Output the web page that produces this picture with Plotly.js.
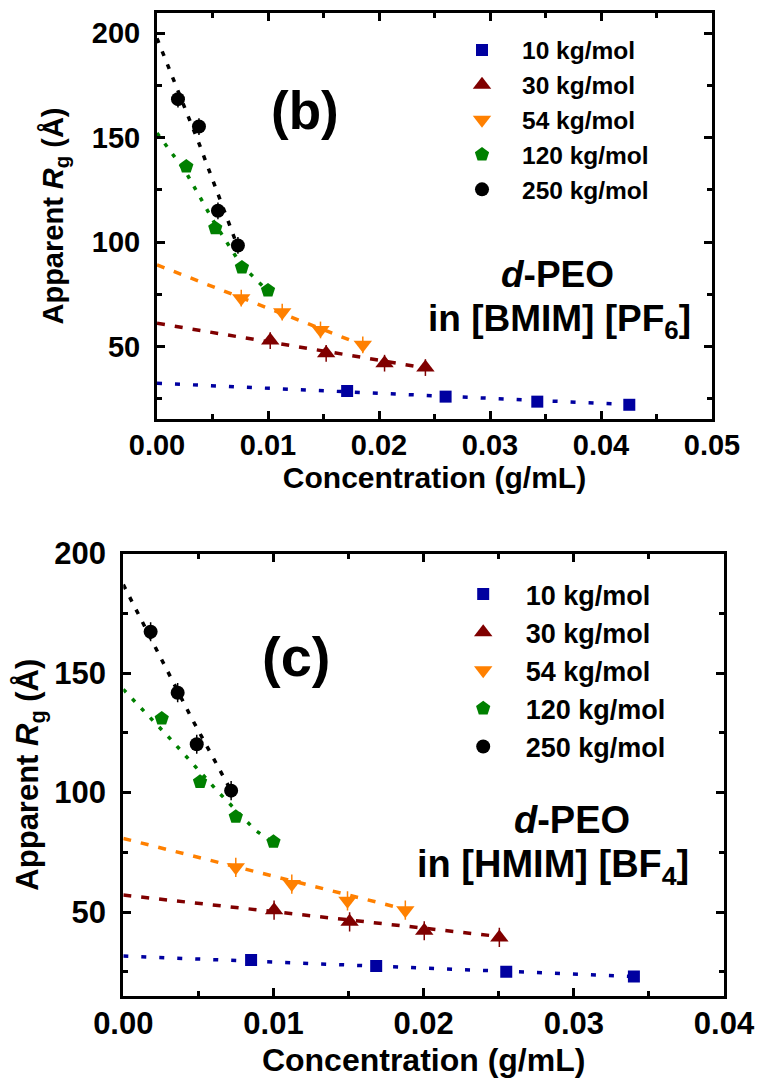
<!DOCTYPE html>
<html><head><meta charset="utf-8">
<script src="https://cdn.plot.ly/plotly-3.0.1.min.js"></script>
<style>html,body{margin:0;padding:0;background:#fff}</style>
</head><body>
<div id="chart" style="width:759px;height:1078px"></div>
<script>
// ---------- data ----------
const seriesNames = ['10 kg/mol', '30 kg/mol', '54 kg/mol', '120 kg/mol', '250 kg/mol'];
const seriesColors = ['#0000a0', '#800000', '#ff8000', '#008000', '#000000'];
const seriesSymbols = ['square', 'triangle-up', 'triangle-down', 'pentagon', 'circle'];

// panel (b): d-PEO in [BMIM][PF6]
const b10x = [0.01713, 0.0260, 0.03426, 0.04255];
const b10y = [28.8, 26.1, 23.7, 22.2];
const b30x = [0.0102, 0.01524, 0.0205, 0.02418];
const b30y = [52.9, 46.8, 42.1, 40.0];
const b54x = [0.00759, 0.01128, 0.01473, 0.01854];
const b54y = [73.2, 66.5, 58.0, 50.9];
const b120x = [0.00264, 0.00525, 0.00765, 0.0100];
const b120y = [136.2, 106.7, 87.9, 76.9];
const b250x = [0.00189, 0.00378, 0.00549, 0.00729];
const b250y = [168.4, 155.3, 115.0, 98.4];
// fitted (extrapolation) lines, panel (b)
const bFit10x = [0, 0.0425],  bFit10y = [32.5, 22.3];
const bFit30x = [0, 0.0242],  bFit30y = [61.2, 39.8];
const bFit54x = [0, 0.0192],  bFit54y = [89.1, 49.4];
const bFit120x = [0, 0.0026, 0.0052, 0.0076, 0.0100], bFit120y = [152.2, 133.5, 109.0, 89.0, 76.5];
const bFit250x = [0, 0.0038, 0.0074], bFit250y = [197.5, 147.0, 96.0];

// panel (c): d-PEO in [HMIM][BF4]
const c10x = [0.00851, 0.01684, 0.0255, 0.0340];
const c10y = [29.9, 27.4, 25.0, 23.0];
const c30x = [0.01004, 0.01507, 0.02004, 0.02504];
const c30y = [50.8, 45.9, 42.2, 39.4];
const c54x = [0.00749, 0.01122, 0.01493, 0.01878];
const c54y = [68.7, 61.7, 54.7, 50.8];
const c120x = [0.00256, 0.00511, 0.00749, 0.0100];
const c120y = [131.0, 104.5, 89.9, 79.4];
const c250x = [0.00182, 0.00362, 0.00489, 0.00718];
const c250y = [167.3, 141.8, 120.2, 100.8];
// fitted lines, panel (c)
const cFit10x = [0, 0.0342],  cFit10y = [31.6, 23.0];
const cFit30x = [0, 0.0250],  cFit30y = [57.1, 39.8];
const cFit54x = [0, 0.0190],  cFit54y = [80.8, 50.8];
const cFit120x = [0, 0.0032, 0.0063, 0.0088, 0.0100], cFit120y = [143.2, 122.0, 100.4, 84.2, 79.0];
const cFit250x = [0, 0.00456, 0.0072], cFit250y = [187.0, 131.0, 100.5];

// error-bar half widths (Å)
const errB = [0, 4, 4, 0, 4];
const errC = [0, 4, 4, 0, 4];

// ---------- style ----------
const FONT = 'Liberation Sans, Arial, Helvetica, sans-serif';
const dashes = ['5px,13px', '8px,10px', '8px,10px', '4px,9px', '5px,9px'];
const markerSizes = [12, 16, 16, 15, 14];

const panelB = {
  pts: [[b10x,b10y],[b30x,b30y],[b54x,b54y],[b120x,b120y],[b250x,b250y]],
  fits: [[bFit10x,bFit10y],[bFit30x,bFit30y],[bFit54x,bFit54y],[bFit120x,bFit120y],[bFit250x,bFit250y]],
  err: errB, xa: 'x', ya: 'y', legend: 'legend'
};
const panelC = {
  pts: [[c10x,c10y],[c30x,c30y],[c54x,c54y],[c120x,c120y],[c250x,c250y]],
  fits: [[cFit10x,cFit10y],[cFit30x,cFit30y],[cFit54x,cFit54y],[cFit120x,cFit120y],[cFit250x,cFit250y]],
  err: errC, xa: 'x2', ya: 'y2', legend: 'legend2'
};

const traces = [];
[panelB, panelC].forEach(p => {
  p.fits.forEach((f, i) => {
    traces.push({
      x: f[0], y: f[1], xaxis: p.xa, yaxis: p.ya, mode: 'lines', type: 'scatter',
      line: {color: seriesColors[i], width: 3.5, dash: dashes[i]},
      showlegend: false, hoverinfo: 'skip'
    });
  });
  p.pts.forEach((d, i) => {
    traces.push({
      x: d[0], y: d[1], xaxis: p.xa, yaxis: p.ya, mode: 'markers', type: 'scatter',
      name: seriesNames[i], legend: p.legend,
      marker: {symbol: seriesSymbols[i], color: seriesColors[i], size: markerSizes[i], line: {width: 0}},
      error_y: {type: 'constant', value: p.err[i], visible: p.err[i] > 0, color: seriesColors[i], thickness: 1.5, width: 0}
    });
  });
});

function xAxis(domain, range, anchor, tickSize, titleSize, standoff, lblStandoff) {
  return {
    domain: domain, range: range, anchor: anchor, tickformat: '.2f', dtick: 0.01, tick0: 0,
    showline: true, linewidth: 3, linecolor: '#000', mirror: 'ticks',
    ticks: 'inside', ticklen: 8, tickwidth: 3, tickcolor: '#000',
    minor: {ticks: 'inside', dtick: 0.005, ticklen: 5, tickwidth: 3, tickcolor: '#000'},
    showgrid: false, zeroline: false, ticklabelstandoff: lblStandoff,
    tickfont: {family: FONT, size: tickSize, color: '#000', weight: 'bold'},
    title: {text: 'Concentration (g/mL)', standoff: standoff,
            font: {family: FONT, size: titleSize, color: '#000', weight: 'bold'}}
  };
}
function yAxis(domain, range, anchor, tickSize, titleSize, standoff, lblStandoff) {
  return {
    domain: domain, range: range, anchor: anchor, dtick: 50, tick0: 0,
    showline: true, linewidth: 3, linecolor: '#000', mirror: 'ticks',
    ticks: 'inside', ticklen: 8, tickwidth: 3, tickcolor: '#000',
    minor: {ticks: 'inside', dtick: 25, ticklen: 5, tickwidth: 3, tickcolor: '#000'},
    showgrid: false, zeroline: false, ticklabelstandoff: lblStandoff,
    tickfont: {family: FONT, size: tickSize, color: '#000', weight: 'bold'},
    title: {text: 'Apparent <i>R</i><sub>g</sub> (Å)', standoff: standoff,
            font: {family: FONT, size: titleSize, color: '#000', weight: 'bold'}}
  };
}

const W = 759, H = 1078;
const px = v => v / W, py = v => 1 - v / H;

const layout = {
  width: W, height: H, autosize: false,
  margin: {l: 0, r: 0, t: 0, b: 0, pad: 0},
  paper_bgcolor: '#fff', plot_bgcolor: '#fff',
  font: {family: FONT, color: '#000', weight: 'bold'},
  xaxis: xAxis([px(157), px(712)], [0, 0.05], 'y', 29, 30, 8, -2),
  yaxis: yAxis([py(419), py(13)], [15.4, 209.6], 'x', 29, 29, 20, 8),
  xaxis2: xAxis([px(123.3), px(724)], [0, 0.04], 'y2', 31, 32, 26, -2),
  yaxis2: yAxis([py(995.7), py(553.6)], [15, 200], 'x2', 31, 31, 7, 8),
  legend: {x: px(442), xanchor: 'left', y: py(27.5), yanchor: 'top', itemwidth: 70,
           bgcolor: 'rgba(0,0,0,0)', borderwidth: 0, tracegroupgap: 0,
           font: {family: FONT, size: 24.5, color: '#000', weight: 'bold'}},
  legend2: {x: px(440.7), xanchor: 'left', y: py(570), yanchor: 'top', itemwidth: 75,
           bgcolor: 'rgba(0,0,0,0)', borderwidth: 0, tracegroupgap: 0,
           font: {family: FONT, size: 27, color: '#000', weight: 'bold'}},
  annotations: [
    {text: '(b)', x: px(305), y: py(111), xref: 'paper', yref: 'paper', showarrow: false,
     xanchor: 'center', yanchor: 'middle', font: {family: FONT, size: 53, color: '#000', weight: 'bold'}},
    {text: '<i>d</i>-PEO', x: px(557.5), y: py(275), xref: 'paper', yref: 'paper', showarrow: false,
     xanchor: 'center', yanchor: 'middle', font: {family: FONT, size: 37, color: '#000', weight: 'bold'}},
    {text: 'in [BMIM] [PF<sub>6</sub>]', x: px(559), y: py(321.5), xref: 'paper', yref: 'paper', showarrow: false,
     xanchor: 'center', yanchor: 'middle', font: {family: FONT, size: 37, color: '#000', weight: 'bold'}},
    {text: '(c)', x: px(296), y: py(656), xref: 'paper', yref: 'paper', showarrow: false,
     xanchor: 'center', yanchor: 'middle', font: {family: FONT, size: 56, color: '#000', weight: 'bold'}},
    {text: '<i>d</i>-PEO', x: px(572), y: py(820), xref: 'paper', yref: 'paper', showarrow: false,
     xanchor: 'center', yanchor: 'middle', font: {family: FONT, size: 38, color: '#000', weight: 'bold'}},
    {text: 'in [HMIM] [BF<sub>4</sub>]', x: px(553), y: py(867), xref: 'paper', yref: 'paper', showarrow: false,
     xanchor: 'center', yanchor: 'middle', font: {family: FONT, size: 38, color: '#000', weight: 'bold'}}
  ]
};

Plotly.newPlot('chart', traces, layout, {displayModeBar: false, staticPlot: true});
</script>
</body></html>
